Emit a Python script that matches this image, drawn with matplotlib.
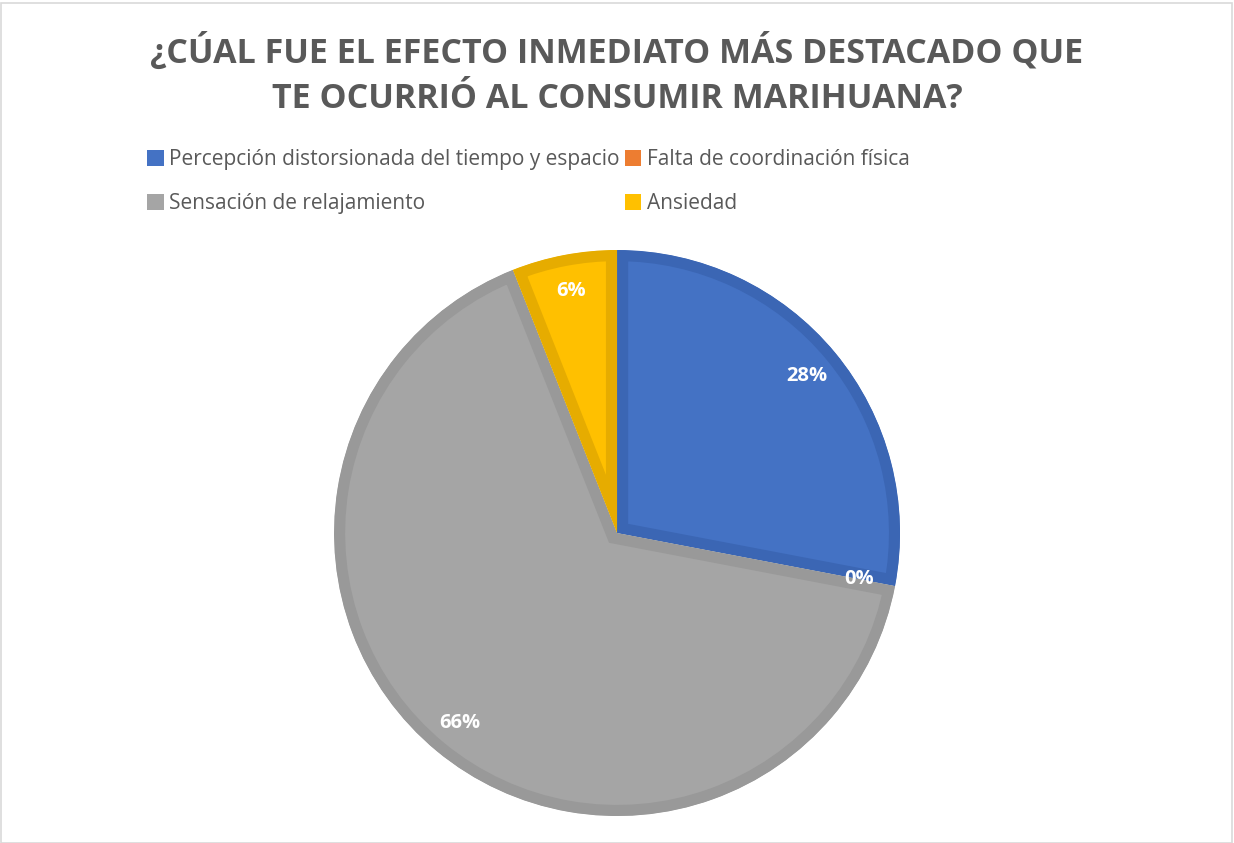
import matplotlib.pyplot as plt
import numpy as np
from matplotlib.patches import Patch, Rectangle

# data
categories = ['Percepción distorsionada del tiempo y espacio',
              'Falta de coordinación física',
              'Sensación de relajamiento',
              'Ansiedad']
values = [28, 0, 66, 6]
labels = ['28%', '0%', '66%', '6%']
colors = ['#4472C4', '#ED7D31', '#A5A5A5', '#FFC000']
edge_colors = ['#3B66B4', '#D56F2A', '#999999', '#E6AC00']

title = '¿CÚAL FUE EL EFECTO INMEDIATO MÁS DESTACADO QUE\nTE OCURRIÓ AL CONSUMIR MARIHUANA?'

plt.rcParams['font.family'] = ['Open Sans', 'DejaVu Sans']

fig = plt.figure(figsize=(12.34, 8.43), dpi=100)

# outer chart border
fig.patches.append(Rectangle((0.001, 0.0), 0.997, 0.996, transform=fig.transFigure,
                             fill=False, edgecolor='#D9D9D9', linewidth=1.2))

fig.text(0.5, 0.912, title, ha='center', va='center', fontsize=24.5, fontweight='bold',
         color='#595959', linespacing=1.42)

ax = fig.add_axes([0.2707, 0.032, 0.4587, 0.6714])
wedges, _ = ax.pie(values, colors=colors, startangle=90, counterclock=False,
                   radius=1, wedgeprops=dict(linewidth=16))
for w, ec in zip(wedges, edge_colors):
    w.set_edgecolor(ec)
    w.set_clip_on(True)
    w.set_clip_path(w)

# percentage labels
total = sum(values)
angle = 90
for v, lab in zip(values, labels):
    span = 360 * v / total
    mid = np.deg2rad(angle - span / 2)
    ax.text(0.87 * np.cos(mid), 0.87 * np.sin(mid), lab, ha='center', va='center',
            fontsize=14.5, fontweight='bold', color='white')
    angle -= span

ax.set_xlim(-1, 1)
ax.set_ylim(-1, 1)
ax.set_aspect('equal')
ax.axis('off')

# legend filled row by row like the original
order = [0, 2, 1, 3]
handles = [Patch(facecolor=colors[i]) for i in order]
fig.legend(handles, [categories[i] for i in order], loc='upper left',
           bbox_to_anchor=(0.104, 0.845), ncol=2, frameon=False, fontsize=15,
           labelcolor='#595959', handlelength=0.8, handleheight=0.8,
           handletextpad=0.25, columnspacing=0.25, labelspacing=1.1)

fig.savefig('out.png', dpi=100)
